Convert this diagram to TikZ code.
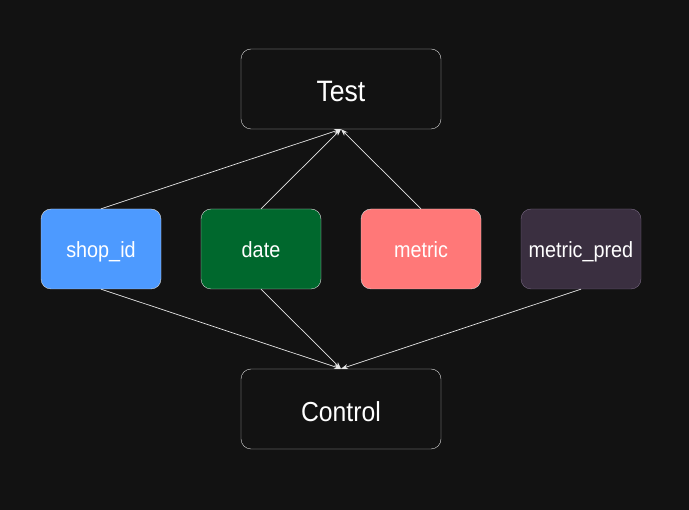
\documentclass[tikz,border=0pt]{standalone}
\usepackage{fontspec}
\setmainfont[FakeStretch=0.9]{Liberation Sans}
\definecolor{bgdark}{RGB}{18,18,18}
\definecolor{shopblue}{RGB}{77,154,255}
\definecolor{dategreen}{RGB}{0,104,45}
\definecolor{metricred}{RGB}{255,120,120}
\definecolor{predpurple}{RGB}{58,47,64}
\definecolor{predborder}{RGB}{120,104,130}
\tikzset{
  bigbox/.style={draw=white!85!black,fill=bgdark,rounded corners=10pt,
    minimum width=200pt,minimum height=80pt,inner sep=0pt,
    text height=25pt,text depth=0pt,text=white},
  varbox/.style={draw=white!85!black,rounded corners=10pt,
    minimum width=120pt,minimum height=80pt,inner sep=0pt,
    text height=18pt,text depth=0pt,
    text=white,font=\fontsize{22}{26}\selectfont},
  link/.style={draw=white!90!black,line width=0.7pt,-{Stealth[length=7pt,width=5pt]}}
}
\usetikzlibrary{arrows.meta}
\begin{document}
\begin{tikzpicture}[x=1pt,y=-1pt]
	% Hintergrund
	\fill[bgdark] (0,0) rectangle (689,510);
	\useasboundingbox (0,0) rectangle (689,510);

	% Gruppen
	\node[bigbox,font=\fontsize{29.5}{34}\selectfont] (test) at (341,89) {Test};
	\node[bigbox,font=\fontsize{27.5}{32}\selectfont] (control) at (341,409) {Control};

	% Spalten
	\node[varbox,fill=shopblue] (shopid) at (101,249) {shop\_id};
	\node[varbox,fill=dategreen] (date) at (261,249) {date};
	\node[varbox,fill=metricred] (metric) at (421,249) {metric};
	\node[varbox,fill=predpurple,draw=predborder] (metricpred) at (581,249) {metric\_pred};

	% Verbindungen nach Test
	\draw[link] (shopid.north) -- (test.south);
	\draw[link] (date.north) -- (test.south);
	\draw[link] (metric.north) -- (test.south);

	% Verbindungen nach Control
	\draw[link] (shopid.south) -- (control.north);
	\draw[link] (date.south) -- (control.north);
	\draw[link] (metricpred.south) -- (control.north);
\end{tikzpicture}
\end{document}
